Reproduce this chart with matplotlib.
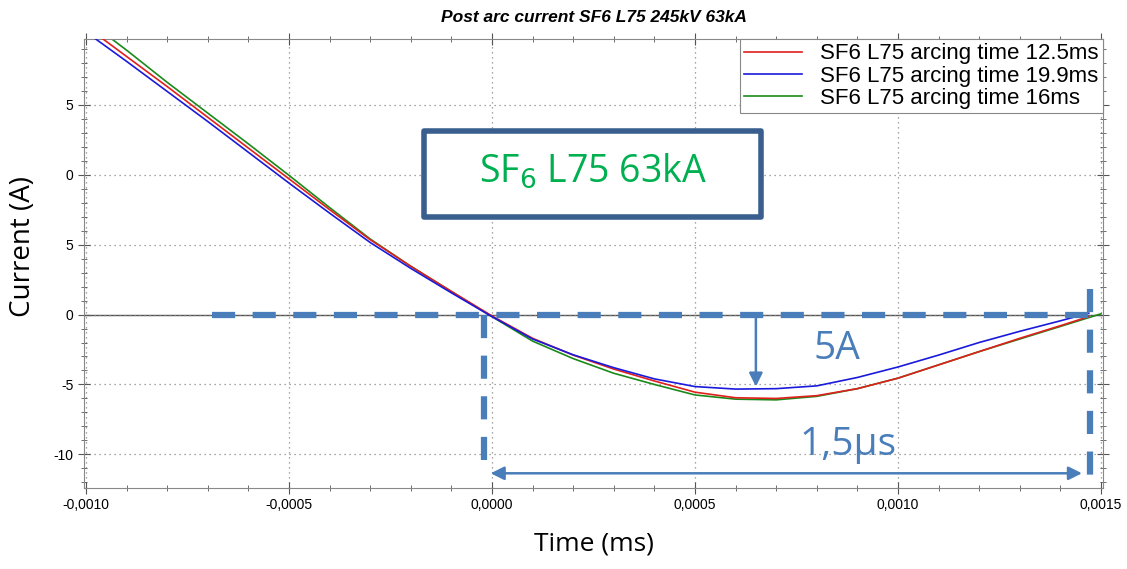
import numpy as np
import matplotlib.pyplot as plt
from matplotlib.patches import Rectangle

# time axis (the plot says ms, values as shown)
t = [-0.0010, -0.0009, -0.0008, -0.0007, -0.0006, -0.0005, -0.0004, -0.0003,
     -0.0002, -0.0001, 0.0000, 0.0001, 0.0002, 0.0003, 0.0004, 0.0005,
     0.0006, 0.0007, 0.0008, 0.0009, 0.0010, 0.0011, 0.0012, 0.0013,
     0.0014]
t_end_red = 0.00147
t_end_blue = 0.00147
t_end_green = 0.0015

cur_red = [20.6, 18.45, 16.3, 14.1, 11.9, 9.7, 7.5, 5.35, 3.45, 1.65, -0.1,
           -1.7, -2.9, -3.9, -4.75, -5.55, -5.95, -6.0, -5.8, -5.3, -4.55,
           -3.6, -2.65, -1.7, -0.8]
cur_red_end = -0.15
cur_blue = [20.2, 18.1, 15.95, 13.8, 11.6, 9.4, 7.25, 5.15, 3.3, 1.55, -0.15,
            -1.75, -2.88, -3.8, -4.6, -5.15, -5.33, -5.3, -5.1, -4.5, -3.75,
            -2.9, -2.0, -1.2, -0.45]
cur_blue_end = 0.1
cur_green = [21.1, 18.9, 16.6, 14.4, 12.2, 9.95, 7.65, 5.4, 3.45, 1.65, -0.15,
             -1.9, -3.15, -4.2, -5.0, -5.75, -6.05, -6.1, -5.85, -5.3, -4.55,
             -3.6, -2.65, -1.75, -0.85]
cur_green_end = 0.05

labels = ['SF6 L75 arcing time 12.5ms', 'SF6 L75 arcing time 19.9ms',
          'SF6 L75 arcing time 16ms']

xticks = [-0.0010, -0.0005, 0.0000, 0.0005, 0.0010, 0.0015]
xticklabels = ['-0,0010', '-0,0005', '0,0000', '0,0005', '0,0010', '0,0015']
yticks = [15, 10, 5, 0, -5, -10]
yticklabels = ['5', '0', '5', '0', '-5', '-10']

anno = '#4a7ebb'

fig = plt.figure(figsize=(11.27, 5.69), dpi=100)
ax = fig.add_axes([0.0745, 0.1424, 0.9042, 0.7891])

ax.plot(t + [t_end_red], cur_red + [cur_red_end], color='#e0201c', lw=1.2, label=labels[0], zorder=3)
ax.plot(t + [t_end_blue], cur_blue + [cur_blue_end], color='#1a1adc', lw=1.2, label=labels[1], zorder=3)
ax.plot(t + [t_end_green], cur_green + [cur_green_end], color='#1a8a1a', lw=1.2, label=labels[2], zorder=2)

ax.set_xlim(-0.001005, 0.001505)
ax.set_ylim(-12.4, 19.7)
ax.set_xticks(xticks)
ax.set_xticklabels(xticklabels, fontsize=10, family='Liberation Sans')
ax.set_yticks(yticks)
ax.set_yticklabels(yticklabels, fontsize=10, family='Liberation Sans')
ax.set_xticks(np.arange(-0.001, 0.0015001, 0.0001), minor=True)
ax.set_yticks(np.arange(-12, 20, 1), minor=True)
ax.tick_params(which='both', direction='inout', top=True, right=True, colors='#555555', labelcolor='black')
ax.tick_params(which='major', length=8)
ax.tick_params(which='minor', length=5)
ax.grid(True, which='major', color='#888888', linestyle=(0, (1, 3)), lw=0.9)
for s in ax.spines.values():
    s.set_color('#888888')
ax.axhline(0, color='#555555', lw=1.0, zorder=1)

ax.set_title('Post arc current SF6 L75 245kV 63kA', fontsize=12.5, fontweight='bold',
             style='italic', family='Liberation Sans', pad=12)
ax.set_ylabel('Current (A)', fontsize=20, family='Open Sans')
ax.yaxis.set_label_coords(-0.046, 0.537)
ax.set_xlabel('Time (ms)', fontsize=19, family='Open Sans', labelpad=14)

leg = ax.legend(loc='upper right', borderaxespad=0, fancybox=False, framealpha=1,
                edgecolor='#888888', prop={'family': 'Liberation Sans', 'size': 16},
                handlelength=2.6, handletextpad=0.8, labelspacing=0.05, borderpad=0.2)
leg.get_frame().set_linewidth(0.8)

# annotation overlay
dash = (0, (3.7, 2.8))
ax.plot([-0.00069, 0.00148], [0, 0], color=anno, lw=4.5, linestyle=dash, zorder=4)
ax.plot([-0.00002, -0.00002], [0, -11.4], color=anno, lw=4.5, linestyle=dash, zorder=4)
ax.plot([0.001473, 0.001473], [1.8, -12.4], color=anno, lw=4.5, linestyle=dash, zorder=4)
ax.annotate('', xy=(-0.00001, -11.35), xytext=(0.00146, -11.35),
            arrowprops=dict(arrowstyle='<|-|>', color=anno, lw=1.8, mutation_scale=20), zorder=5)
ax.annotate('', xy=(0.00065, -5.35), xytext=(0.00065, 0),
            arrowprops=dict(arrowstyle='-|>', color=anno, lw=1.8, mutation_scale=20), zorder=5)
ax.text(0.00085, -2.5, '5A', color=anno, fontsize=28, family='Open Sans', ha='center', va='center', zorder=5)
ax.text(0.000878, -9.3, '1,5µs', color=anno, fontsize=28, family='Open Sans', ha='center', va='center', zorder=5)

ax.add_patch(Rectangle((-0.000168, 7.0), 0.00083, 6.15, facecolor='white', edgecolor='#3a5f8f',
                       lw=4, zorder=5, joinstyle='round'))
ax.text(0.000248, 10.2, 'SF$_6$ L75 63kA', color='#00b050', fontsize=27, family='Open Sans',
        ha='center', va='center', zorder=6)

fig.savefig('out.png', dpi=100)
